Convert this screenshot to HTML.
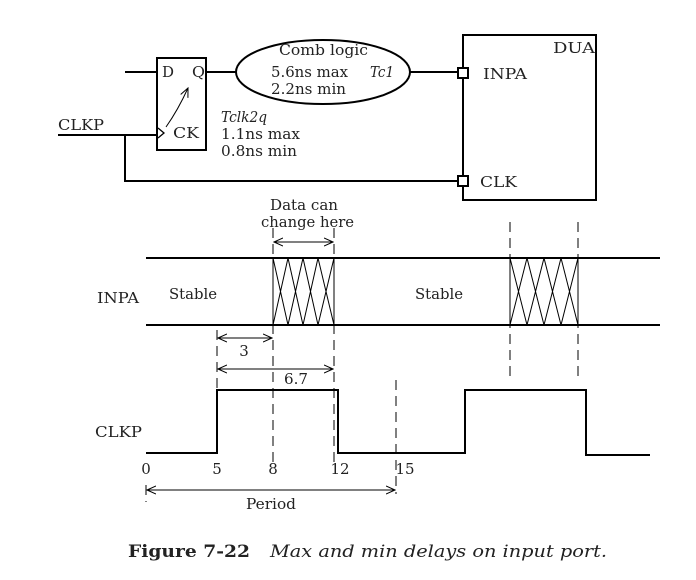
<!DOCTYPE html>
<html><head><meta charset="utf-8"><style>
body{margin:0;background:#fff}
svg text{font-family:"DejaVu Serif","Liberation Serif",serif;fill:#222}
</style></head><body>
<svg width="696" height="575" viewBox="0 0 696 575" xmlns="http://www.w3.org/2000/svg">
<defs>
<marker id="a" markerWidth="10" markerHeight="10" refX="9" refY="5" orient="auto-start-reverse" markerUnits="userSpaceOnUse"><path d="M0,1 L9,5 L0,9" fill="none" stroke="#000" stroke-width="1"/></marker>
</defs>
<g stroke="#000" stroke-width="2" fill="none">
<rect x="157" y="58" width="49" height="92"/>
<path d="M125,72H157 M206,72H236 M410,72H458 M58,135H157 M125,135V181H458"/>
<ellipse cx="323" cy="72" rx="87" ry="32"/>
<rect x="463" y="35" width="133" height="165"/>
<rect x="458" y="68" width="10" height="10" fill="#fff"/>
<rect x="458" y="176" width="10" height="10" fill="#fff"/>
<path d="M158,128L164,133L158,138" stroke-width="1.3"/>
<path d="M146,258H660 M146,325H660"/>
<path d="M146,453H217V390H338V453H465V390H586V455H650"/>
</g>
<path d="M166,127 Q178,110 188,88" fill="none" stroke="#000" stroke-width="1" marker-end="url(#a)"/>
<g stroke="#000" stroke-width="1" fill="none">
<path d="M273,258V325 M334,258V325 M273,258L288,325 M288,258L273,325 M288,258L303,325 M303,258L288,325 M303,258L318,325 M318,258L303,325 M318,258L334,325 M334,258L318,325"/>
<path d="M510,258V325 M578,258V325 M510,258L527,325 M527,258L510,325 M527,258L544,325 M544,258L527,325 M544,258L561,325 M561,258L544,325 M561,258L578,325 M578,258L561,325"/>
<g stroke-dasharray="10,6">
<path d="M273,228V462 M334,228V462 M510,222V380 M578,222V380 M217,330V392 M396,380V494 M146,485V502"/>
</g>
<path d="M274,242H333" marker-start="url(#a)" marker-end="url(#a)"/>
<path d="M218,338H272" marker-start="url(#a)" marker-end="url(#a)"/>
<path d="M218,369H333" marker-start="url(#a)" marker-end="url(#a)"/>
<path d="M147,490H395" marker-start="url(#a)" marker-end="url(#a)"/>
</g>
<g font-size="15">
<text x="162" y="77" textLength="12" lengthAdjust="spacingAndGlyphs">D</text><text x="192" y="77" textLength="13" lengthAdjust="spacingAndGlyphs">Q</text><text x="173" y="138" textLength="26" lengthAdjust="spacingAndGlyphs">CK</text>
<text x="58" y="130" textLength="46" lengthAdjust="spacingAndGlyphs">CLKP</text>
<text x="279" y="55" textLength="89" lengthAdjust="spacingAndGlyphs">Comb logic</text>
<text x="271" y="77" textLength="77" lengthAdjust="spacingAndGlyphs">5.6ns max</text><text x="271" y="94" textLength="75" lengthAdjust="spacingAndGlyphs">2.2ns min</text>
<text x="370" y="77" font-style="italic" textLength="24" lengthAdjust="spacingAndGlyphs">Tc1</text>
<text x="221" y="122" font-style="italic" textLength="46" lengthAdjust="spacingAndGlyphs">Tclk2q</text>
<text x="221" y="139" textLength="79" lengthAdjust="spacingAndGlyphs">1.1ns max</text><text x="221" y="156" textLength="76" lengthAdjust="spacingAndGlyphs">0.8ns min</text>
<text x="553" y="53" textLength="42" lengthAdjust="spacingAndGlyphs">DUA</text><text x="483" y="79" textLength="44" lengthAdjust="spacingAndGlyphs">INPA</text><text x="480" y="187" textLength="37" lengthAdjust="spacingAndGlyphs">CLK</text>
<text x="270" y="210" textLength="68" lengthAdjust="spacingAndGlyphs">Data can</text>
<text x="261" y="227" textLength="93" lengthAdjust="spacingAndGlyphs">change here</text>
<text x="97" y="303" textLength="42" lengthAdjust="spacingAndGlyphs">INPA</text><text x="169" y="299" textLength="48" lengthAdjust="spacingAndGlyphs">Stable</text><text x="415" y="299" textLength="48" lengthAdjust="spacingAndGlyphs">Stable</text>
<text x="244" y="356" text-anchor="middle">3</text><text x="284" y="384" textLength="24" lengthAdjust="spacingAndGlyphs">6.7</text>
<text x="95" y="437" textLength="47" lengthAdjust="spacingAndGlyphs">CLKP</text>
<text x="146" y="474" text-anchor="middle">0</text><text x="217" y="474" text-anchor="middle">5</text>
<text x="273" y="474" text-anchor="middle">8</text><text x="340" y="474" text-anchor="middle">12</text>
<text x="405" y="474" text-anchor="middle">15</text>
<text x="246" y="509" textLength="50" lengthAdjust="spacingAndGlyphs">Period</text>
</g>
<text x="128" y="557" font-size="17" font-weight="bold" textLength="122" lengthAdjust="spacingAndGlyphs">Figure 7-22</text>
<text x="270" y="557" font-size="17" font-style="italic" textLength="337" lengthAdjust="spacingAndGlyphs">Max and min delays on input port.</text>
</svg>
</body></html>
